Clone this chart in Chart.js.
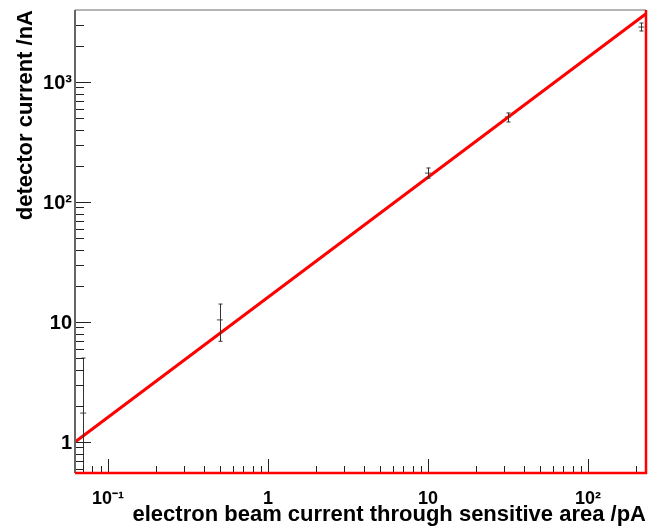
<!DOCTYPE html>
<html>
<head>
<meta charset="utf-8">
<script src="https://cdn.jsdelivr.net/npm/chart.js@4.4.1/dist/chart.umd.min.js"></script>
<style>
  html, body { margin: 0; padding: 0; background: #fff; }
  #wrap { width: 662px; height: 527px; }
</style>
</head>
<body>
<div id="wrap"><canvas id="c"></canvas></div>
<script>
// measured points (beam current pA, detector current nA)
const beamCurrent = [0.07, 0.5, 10, 31.5, 215];
const detCurrent = [1.74, 10.4, 174, 511, 2870];
const errHigh = [5.0, 14.1, 192, 552, 3100];
const errLow = [0.3, 6.9, 158, 464, 2660];

// linear fit line
const fitX = [0.0622, 230];
const fitY = [1.0, 3700];

// axis ranges and labelled ticks
const xRange = [0.0622, 230];
const yRange = [0.551, 3980];
const xMajor = [0.1, 1, 10, 100];
const yMajor = [1, 10, 100, 1000];
const xLabels = ['10\u207B\u00B9', '1', '10', '10\u00B2'];
const yLabels = ['1', '10', '10\u00B2', '10\u00B3'];

const FONT = "'Liberation Sans', Arial, Helvetica, sans-serif";

// ROOT-ish frame, inside ticks and error bars
const rootFrame = {
  id: 'rootFrame',
  afterDatasetsDraw(chart) {
    const { ctx, chartArea: a, scales } = chart;
    const xs = scales.x, ys = scales.y;
    ctx.save();

    // error bars
    ctx.save();
    ctx.beginPath();
    ctx.rect(a.left, a.top, a.right - a.left, a.bottom - a.top);
    ctx.clip();
    ctx.strokeStyle = '#333';
    ctx.lineWidth = 1;
    beamCurrent.forEach((bx, i) => {
      const px = Math.round(xs.getPixelForValue(bx)) + 0.5;
      const hi = ys.getPixelForValue(errHigh[i]);
      const lo = ys.getPixelForValue(errLow[i]);
      ctx.beginPath();
      ctx.moveTo(px, hi); ctx.lineTo(px, lo);
      ctx.moveTo(px - 2, hi); ctx.lineTo(px + 2, hi);
      ctx.moveTo(px - 2, lo); ctx.lineTo(px + 2, lo);
      ctx.stroke();
    });
    ctx.restore();

    // ticks
    ctx.strokeStyle = '#222';
    ctx.lineWidth = 1;
    ctx.beginPath();
    for (let e = -2; e <= 3; e++) {
      for (let m = 1; m <= 9; m++) {
        const v = m * Math.pow(10, e);
        const len = m === 1 ? 14 : 7;
        if (v >= xRange[0] && v <= xRange[1]) {
          const px = Math.round(xs.getPixelForValue(v)) + 0.5;
          ctx.moveTo(px, a.bottom); ctx.lineTo(px, a.bottom - len);
        }
        if (v >= yRange[0] && v <= yRange[1]) {
          const py = Math.round(ys.getPixelForValue(v)) + 0.5;
          ctx.moveTo(a.left, py); ctx.lineTo(a.left + len + 2, py);
        }
      }
    }
    ctx.stroke();

    // frame
    ctx.lineWidth = 2;
    ctx.strokeStyle = '#b4b4b4';
    ctx.beginPath(); ctx.moveTo(a.left, a.top); ctx.lineTo(a.right, a.top); ctx.stroke();
    ctx.strokeStyle = '#666';
    ctx.beginPath(); ctx.moveTo(a.left, a.top); ctx.lineTo(a.left, a.bottom); ctx.stroke();
    ctx.lineWidth = 2.5;
    ctx.strokeStyle = '#ff0000';
    ctx.beginPath();
    ctx.moveTo(a.right, a.top); ctx.lineTo(a.right, a.bottom); ctx.lineTo(a.left, a.bottom);
    ctx.stroke();
    ctx.restore();
  }
};

new Chart(document.getElementById('c'), {
  type: 'scatter',
  data: {
    datasets: [
      {
        type: 'line',
        label: 'fit',
        data: fitX.map((x, i) => ({ x, y: fitY[i] })),
        borderColor: '#ff0000',
        borderWidth: 3,
        pointRadius: 0,
        fill: false,
        clip: 2
      },
      {
        label: 'data',
        data: beamCurrent.map((x, i) => ({ x, y: detCurrent[i] })),
        pointStyle: 'line',
        pointRadius: 3,
        borderColor: '#444',
        borderWidth: 1,
        backgroundColor: '#444'
      }
    ]
  },
  options: {
    responsive: true,
    maintainAspectRatio: false,
    animation: false,
    layout: { padding: { left: 0, right: 16, top: 10, bottom: 0 } },
    plugins: { legend: { display: false }, tooltip: { enabled: false } },
    scales: {
      x: {
        type: 'logarithmic',
        min: xRange[0],
        max: xRange[1],
        grid: { display: false, drawTicks: false },
        border: { display: false },
        afterBuildTicks: s => { s.ticks = xMajor.map(v => ({ value: v })); },
        afterFit: s => { s.height = 54; s.paddingLeft = 0; s.paddingRight = 0; },
        ticks: {
          autoSkip: false,
          maxRotation: 0,
          padding: 17,
          color: '#000',
          font: { family: FONT, size: 18, weight: 'bold', lineHeight: 1 },
          callback: (v) => xLabels[xMajor.indexOf(v)] ?? ''
        },
        title: {
          display: true,
          text: 'electron beam current through sensitive area /pA',
          align: 'end',
          color: '#000',
          font: { family: FONT, size: 22, weight: 'bold', lineHeight: 1 },
          padding: { top: 0, bottom: 1 }
        }
      },
      y: {
        type: 'logarithmic',
        min: yRange[0],
        max: yRange[1],
        grid: { display: false, drawTicks: false },
        border: { display: false },
        afterBuildTicks: s => { s.ticks = yMajor.map(v => ({ value: v })); },
        afterFit: s => { s.width = 75; s.paddingTop = 0; s.paddingBottom = 0; },
        ticks: {
          autoSkip: false,
          padding: 3,
          labelOffset: 2,
          color: '#000',
          font: { family: FONT, size: 20, weight: 'bold', lineHeight: 1 },
          callback: (v) => yLabels[yMajor.indexOf(v)] ?? ''
        },
        title: {
          display: true,
          text: 'detector current /nA',
          align: 'end',
          color: '#000',
          font: { family: FONT, size: 22, weight: 'bold', lineHeight: 1 },
          padding: { top: 15, bottom: 0 }
        }
      }
    }
  },
  plugins: [rootFrame]
});
</script>
</body>
</html>
